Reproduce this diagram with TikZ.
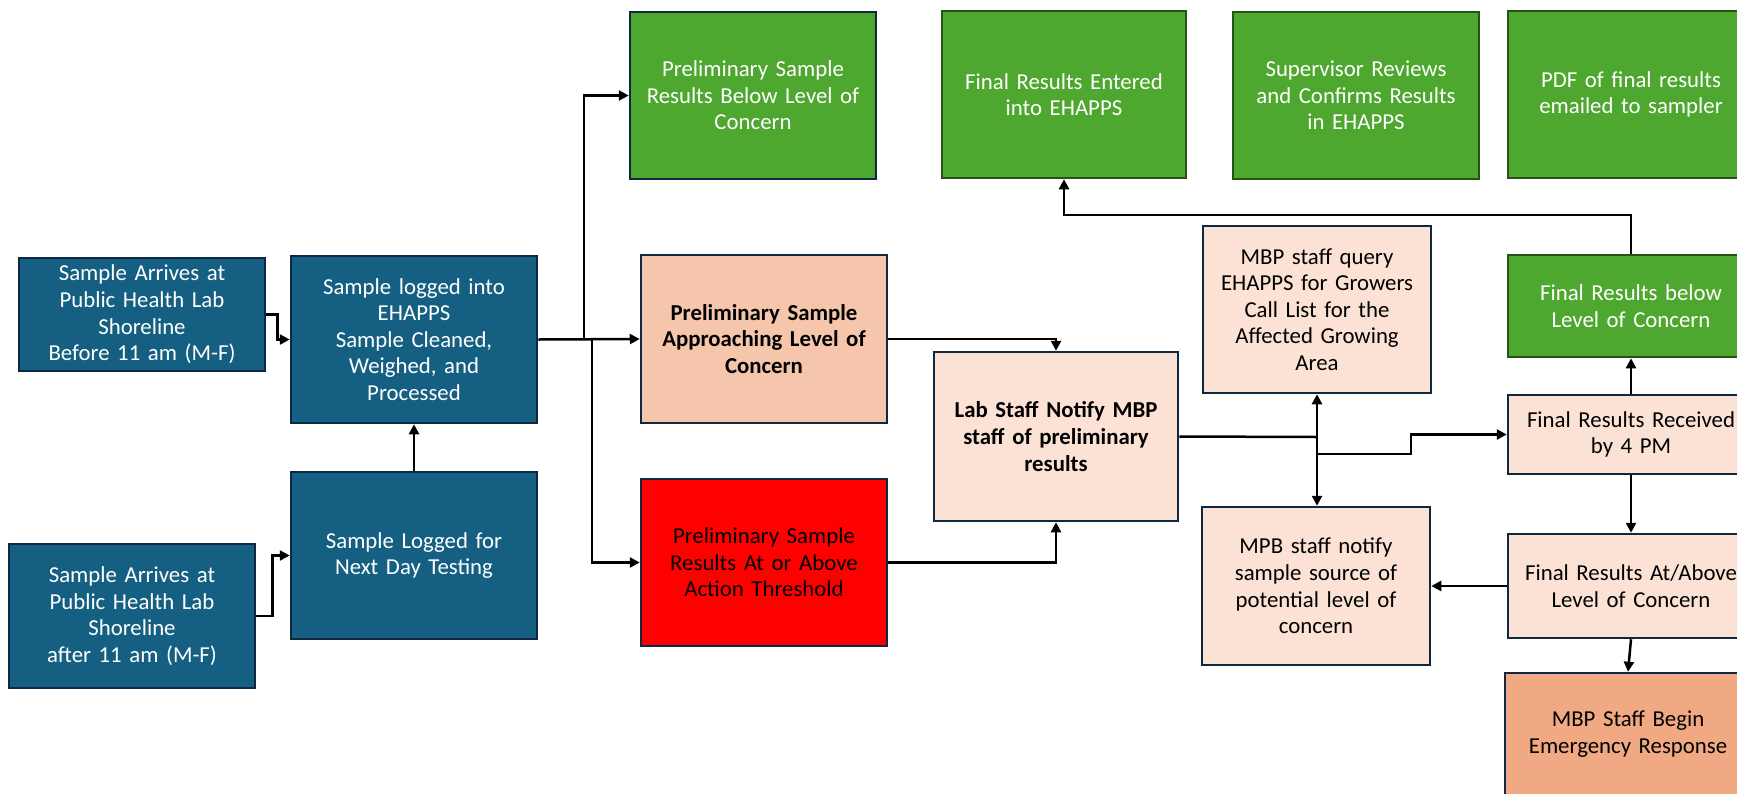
\documentclass[tikz,border=0pt]{standalone}
\usepackage{fontspec}
\setmainfont{Carlito}
\usetikzlibrary{arrows.meta}

\definecolor{navyline}{HTML}{0E2841}
\definecolor{greenline}{HTML}{275317}
\definecolor{boxblue}{HTML}{156082}
\definecolor{boxgreen}{HTML}{4EA72E}
\definecolor{peachmid}{HTML}{F5C6AB}
\definecolor{peachlight}{HTML}{FBE2D5}
\definecolor{peachdeep}{HTML}{F1A983}
\definecolor{alertred}{HTML}{FF0000}

\begin{document}
\begin{tikzpicture}[x=1pt,y=-1pt,
  box/.style={draw=navyline, line width=2.5pt, inner sep=0pt, align=center,
    minimum width=246pt, text width=240pt,
    font=\fontsize{22.8}{26.6}\selectfont},
  bluebox/.style={box, fill=boxblue, text=white},
  greenbox/.style={box, fill=boxgreen, text=white, draw=greenline},
  greenboxn/.style={box, fill=boxgreen, text=white},
  midbox/.style={box, fill=peachmid, text=black},
  lightbox/.style={box, fill=peachlight, text=black},
  deepbox/.style={box, fill=peachdeep, text=black},
  redbox/.style={box, fill=alertred, text=black},
  boldtext/.style={font=\fontsize{22.8}{26.6}\selectfont\bfseries},
  conn/.style={line width=2.5pt, draw=black},
  arr/.style={conn, -{Triangle[length=10pt,width=10pt]}},
  darr/.style={conn, {Triangle[length=10pt,width=10pt]}-{Triangle[length=10pt,width=10pt]}}
]
\useasboundingbox (0,0) rectangle (1737,793);
\clip (0,0) rectangle (1737,793);
\fill[white] (0,0) rectangle (1737,793);

% intake column
\node[bluebox, minimum height=113pt] (A) at (142,314.5)
  {Sample Arrives at\\Public Health Lab\\Shoreline\\Before 11 am (M-F)};
\node[bluebox, minimum height=167pt] (B) at (414,339.5)
  {Sample logged into\\EHAPPS\\Sample Cleaned,\\Weighed, and\\Processed};
\node[bluebox, minimum height=167pt] (C) at (414,555.5)
  {Sample Logged for\\Next Day Testing};
\node[bluebox, minimum height=144pt] (D) at (132,616)
  {Sample Arrives at\\Public Health Lab\\Shoreline\\after 11 am (M-F)};

% preliminary results
\node[greenboxn, minimum height=167pt] (E) at (753,95.5)
  {Preliminary Sample\\Results Below Level of\\Concern};
\node[midbox, boldtext, minimum height=168pt] (F) at (764,339)
  {Preliminary Sample\\Approaching Level of\\Concern};
\node[redbox, minimum height=167pt] (G) at (764,562.5)
  {Preliminary Sample\\Results At or Above\\Action Threshold};
\node[lightbox, boldtext, minimum width=244pt, minimum height=169pt] (H) at (1056,436.5)
  {Lab Staff Notify MBP\\staff of preliminary\\results};

% final results row
\node[greenbox, minimum width=244pt, minimum height=167pt] (I) at (1064,94.5)
  {Final Results Entered\\into EHAPPS};
\node[greenbox, minimum height=167pt] (J) at (1356,95.5)
  {Supervisor Reviews\\and Confirms Results\\in EHAPPS};
\node[greenbox, minimum height=167pt] (K) at (1631,94.5)
  {PDF of final results\\emailed to sampler};

% MBP staff actions
\node[lightbox, minimum width=228pt, text width=224pt, minimum height=167pt] (L) at (1317,309.5)
  {MBP staff query\\EHAPPS for Growers\\Call List for the\\Affected Growing\\Area};
\node[lightbox, minimum width=228pt, text width=224pt, minimum height=158pt] (M) at (1316,586)
  {MPB staff notify\\sample source of\\potential level of\\concern};

% final result outcomes
\node[greenbox, minimum height=102pt] (N) at (1631,306)
  {Final Results below\\Level of Concern};
\node[lightbox, minimum height=79pt] (O) at (1631,434.5)
  {Final Results Received\\by 4 PM};
\node[lightbox, minimum height=104pt] (P) at (1631,586)
  {Final Results At/Above\\Level of Concern};
\node[deepbox, minimum height=122pt] (Q) at (1628,734)
  {MBP Staff Begin\\Emergency Response};

% connectors: intake
\draw[arr] (A.east) -- ++(11,0) |- (B.west);
\draw[arr] (D.east) -- ++(16,0) |- (C.west);
\draw[arr] (C.north) -- (B.south);

% connectors: preliminary split
\draw[arr] (B.east) -- (F.west);
\coordinate (s1) at (584,339.5);
\coordinate (s2) at (592,339.5);
\draw[arr] (s1) |- (E.west);
\draw[arr] (s2) |- (G.west);
\draw[arr] (F.east) -| (H.north);
\draw[arr] (G.east) -| (H.south);

% connectors: lab staff notification
\coordinate (j1) at (1317,437);
\coordinate (j2) at (1317,454);
\coordinate (j3) at (1411,454);
\draw[conn] (H.east) -- (j1);
\draw[darr] (L.south) -- (L.south |- M.north);
\draw[arr] (j2) -- (j3) |- (O.west);

% connectors: final results
\draw[arr] (N.north) -- ++(0,-39) -| (I.south);
\draw[arr] (O.north) -- (N.south);
\draw[arr] (O.south) -- (P.north);
\draw[arr] (P.west) -- (M.east);
\draw[arr] (P.south) -- (Q.north);
\end{tikzpicture}
\end{document}
